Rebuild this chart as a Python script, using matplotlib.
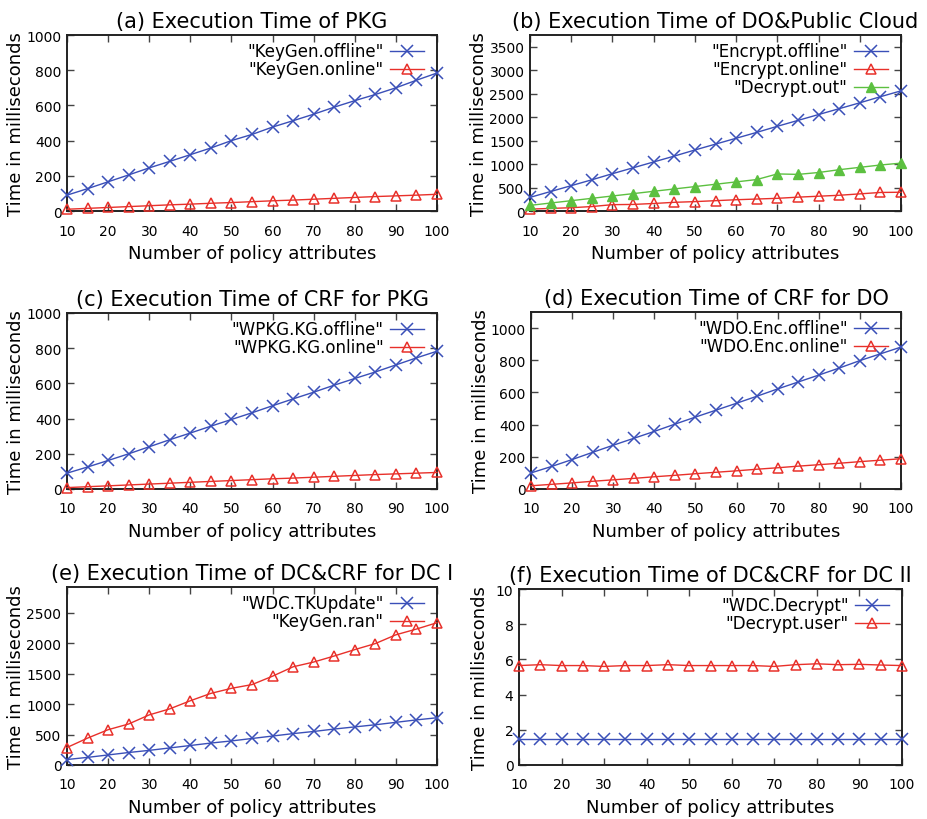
import numpy as np
import matplotlib
matplotlib.use("Agg")
import matplotlib.pyplot as plt

# number of policy attributes
attrs = [10, 15, 20, 25, 30, 35, 40, 45, 50, 55, 60, 65, 70, 75, 80, 85, 90, 95, 100]
x_ticks = [10, 20, 30, 40, 50, 60, 70, 80, 90, 100]

# (a) PKG
keygen_offline = [90, 127, 166, 205, 245, 282, 320, 358, 400, 435, 477, 513, 550, 590, 627, 662, 700, 743, 784]
keygen_online = [10, 15, 20, 25, 30, 35, 39, 44, 48, 53, 58, 62, 67, 72, 77, 82, 86, 90, 95]

# (b) DO & public cloud
encrypt_offline = [290, 415, 540, 665, 795, 920, 1045, 1170, 1300, 1425, 1550, 1675, 1805, 1930, 2055, 2180, 2305, 2435, 2560]
encrypt_online = [40, 55, 70, 95, 135, 140, 160, 185, 200, 220, 240, 255, 270, 295, 315, 335, 365, 395, 400]
decrypt_out = [120, 170, 220, 270, 320, 370, 420, 470, 520, 570, 620, 670, 790, 780, 820, 880, 930, 980, 1020]

# (c) CRF for PKG
wpkg_offline = [90, 125, 162, 200, 240, 280, 318, 357, 395, 433, 473, 512, 550, 590, 628, 665, 705, 745, 783]
wpkg_online = [8, 13, 18, 23, 28, 33, 38, 43, 48, 53, 58, 62, 67, 72, 77, 82, 86, 90, 94]

# (d) CRF for DO
wdo_offline = [100, 140, 183, 228, 272, 315, 358, 403, 447, 490, 533, 577, 622, 665, 708, 752, 798, 840, 882]
wdo_online = [20, 29, 38, 48, 57, 66, 76, 85, 95, 104, 113, 123, 132, 142, 151, 160, 170, 179, 188]

# (e) DC & CRF for DC I
wdc_tkupdate = [90, 125, 165, 205, 240, 280, 320, 360, 395, 435, 475, 515, 550, 590, 625, 660, 700, 740, 775]
keygen_ran = [287, 441, 579, 673, 822, 921, 1054, 1175, 1258, 1319, 1457, 1611, 1689, 1788, 1893, 1992, 2136, 2230, 2334]

# (f) DC & CRF for DC II
wdc_decrypt = [1.5, 1.5, 1.5, 1.5, 1.5, 1.5, 1.5, 1.5, 1.5, 1.5, 1.5, 1.5, 1.5, 1.5, 1.5, 1.5, 1.5, 1.5, 1.5]
decrypt_user = [5.65, 5.7, 5.65, 5.65, 5.6, 5.65, 5.65, 5.7, 5.65, 5.65, 5.65, 5.65, 5.6, 5.7, 5.75, 5.7, 5.72, 5.68, 5.65]

BLUE = '#3a4fb8'
RED = '#e8302a'
GREEN = '#5cc040'

STYLE = {
    'x': dict(color=BLUE, marker='x', markersize=8, markeredgewidth=1.1),
    'tri': dict(color=RED, marker='^', markersize=7, markerfacecolor='none', markeredgewidth=1.1),
    'ftri': dict(color=GREEN, marker='^', markersize=7, markeredgewidth=1.0),
}

panels = [
    # title, pixel box (left, top, right, bottom), y-label centre x, ylim, yticks, series
    ('(a) Execution Time of PKG', (67, 36, 437, 212), 16, 1000, np.arange(0, 1001, 200),
     [('"KeyGen.offline"', keygen_offline, 'x'), ('"KeyGen.online"', keygen_online, 'tri')]),
    ('(b) Execution Time of DO&Public Cloud', (530, 36, 901, 212), 479, 3750, np.arange(0, 3501, 500),
     [('"Encrypt.offline"', encrypt_offline, 'x'), ('"Encrypt.online"', encrypt_online, 'tri'),
      ('"Decrypt.out"', decrypt_out, 'ftri')]),
    ('(c) Execution Time of CRF for PKG', (67, 314, 437, 490), 16, 1000, np.arange(0, 1001, 200),
     [('"WPKG.KG.offline"', wpkg_offline, 'x'), ('"WPKG.KG.online"', wpkg_online, 'tri')]),
    ('(d) Execution Time of CRF for DO', (531, 313, 901, 490), 481, 1100, np.arange(0, 1001, 200),
     [('"WDO.Enc.offline"', wdo_offline, 'x'), ('"WDO.Enc.online"', wdo_online, 'tri')]),
    ('(e) Execution Time of DC&CRF for DC I', (67, 588, 437, 766), 16, 2920, np.arange(0, 2501, 500),
     [('"WDC.TKUpdate"', wdc_tkupdate, 'x'), ('"KeyGen.ran"', keygen_ran, 'tri')]),
    ('(f) Execution Time of DC&CRF for DC II', (519, 590, 902, 766), 480, 10, np.arange(0, 11, 2),
     [('"WDC.Decrypt"', wdc_decrypt, 'x'), ('"Decrypt.user"', decrypt_user, 'tri')]),
]

W, H = 927, 820
fig = plt.figure(figsize=(W / 100, H / 100), dpi=100)

for title, (l, t, r, b), ylab_x, ymax, yticks, series in panels:
    ax = fig.add_axes([l / W, 1 - b / H, (r - l) / W, (b - t) / H])
    for label, vals, sty in series:
        ax.plot(attrs, vals, label=label, linewidth=1.0, clip_on=False, zorder=3, **STYLE[sty])
    ax.set_xlim(10, 100)
    ax.set_ylim(0, ymax)
    ax.set_xticks(x_ticks)
    ax.set_yticks(yticks)
    ax.tick_params(direction='in', top=True, right=True, length=5, width=1,
                   labelsize=10, color='#444444')
    ax.tick_params(axis='x', pad=9)
    ax.tick_params(axis='y', pad=4)
    for s in ax.spines.values():
        s.set_linewidth(1.4)
        s.set_color('#222222')
    ax.set_title(title, fontsize=15, pad=6)
    ax.set_xlabel('Number of policy attributes', fontsize=13, labelpad=5)
    ax.set_ylabel('Time in milliseconds', fontsize=13, va='center')
    ax.yaxis.set_label_coords((ylab_x - l) / (r - l), 0.5)
    ax.legend(loc='upper right', bbox_to_anchor=(1 - 10 / (r - l), 1 - 4 / (b - t)),
              frameon=False, markerfirst=False, fontsize=12,
              handlelength=2.0, handletextpad=0.4, labelspacing=0.0,
              borderaxespad=0.0, borderpad=0.2)

fig.savefig('out.png', dpi=100)
